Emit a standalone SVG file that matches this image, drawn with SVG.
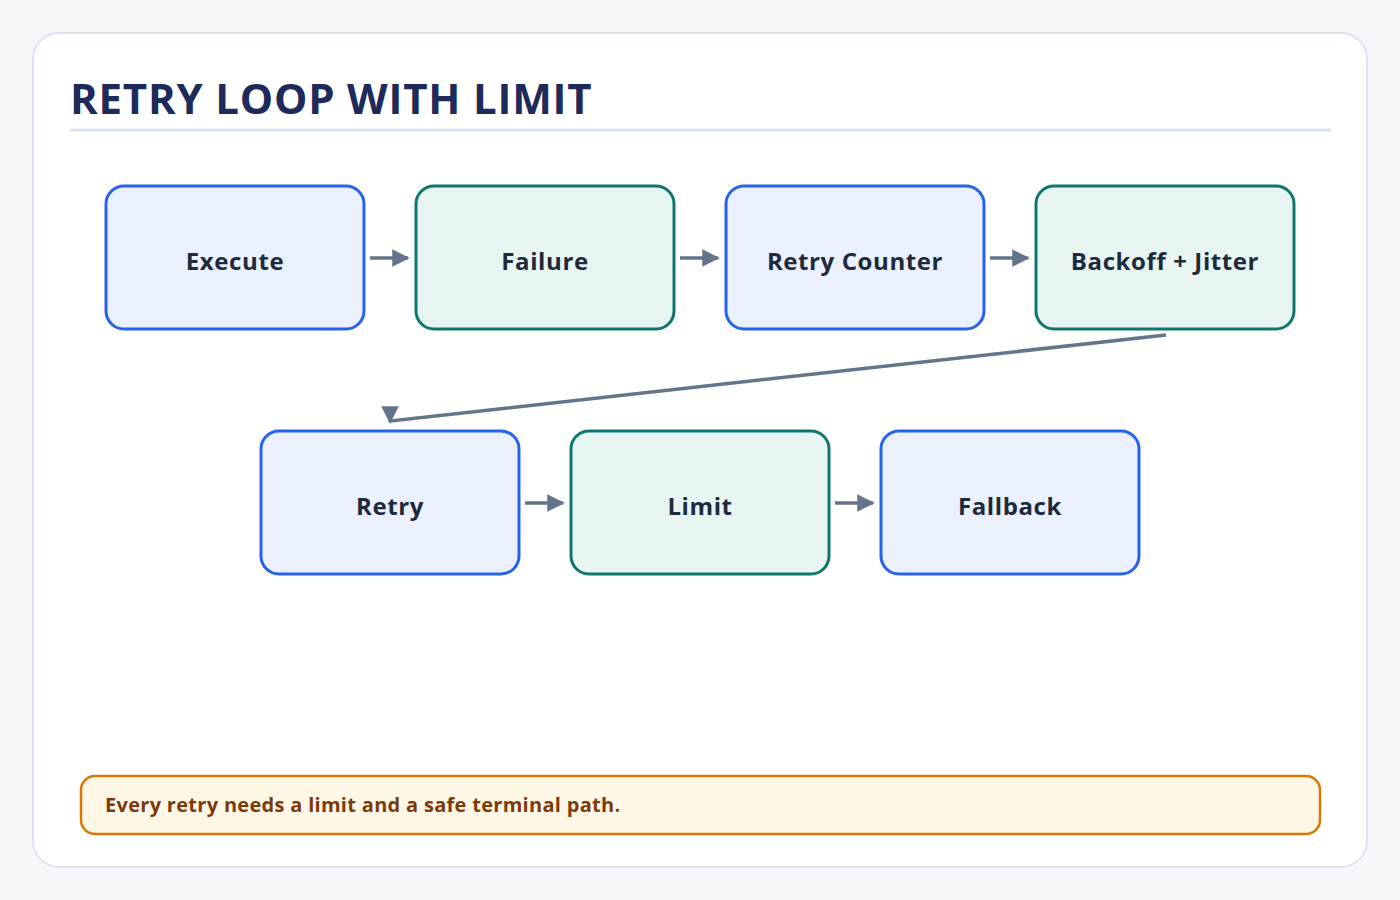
<svg xmlns="http://www.w3.org/2000/svg" width="1400" height="900" viewBox="0 0 1400 900">
<defs>
<marker id="ah" viewBox="0 0 10 10" refX="9" refY="5" markerWidth="5" markerHeight="5" orient="auto" markerUnits="strokeWidth"><path d="M0,0 L10,5 L0,10 z" fill="#64748b"/></marker>
<style>
.blue rect{fill:#eaf0fe;stroke:#2563eb;stroke-width:3}
.green rect{fill:#e6f5f1;stroke:#0f766e;stroke-width:3}
.lbl{font-family:"Open Sans","Noto Sans",sans-serif;font-weight:700;font-size:24px;letter-spacing:0.6px;fill:#1e293b;text-anchor:middle}
.con path{fill:none;stroke:#64748b;stroke-width:3.5;marker-end:url(#ah)}
</style>
</defs>
<rect width="1400" height="900" fill="#f5f7fb"/>
<rect x="33" y="33" width="1334" height="834" rx="26" fill="#fff" stroke="#dde3ee" stroke-width="2"/>
<text x="70" y="114" font-family="Open Sans,Noto Sans,sans-serif" font-weight="700" font-size="42" letter-spacing="0.8" fill="#1e2a5a">RETRY LOOP WITH LIMIT</text>
<line x1="70" y1="130" x2="1331" y2="130" stroke="#dde3ee" stroke-width="3"/>
<g id="n1" class="blue"><rect x="106" y="186" width="258" height="143" rx="18"/><text class="lbl" x="235" y="270">Execute</text></g>
<g id="n2" class="green"><rect x="416" y="186" width="258" height="143" rx="18"/><text class="lbl" x="545" y="270">Failure</text></g>
<g id="n3" class="blue"><rect x="726" y="186" width="258" height="143" rx="18"/><text class="lbl" x="855" y="270">Retry Counter</text></g>
<g id="n4" class="green"><rect x="1036" y="186" width="258" height="143" rx="18"/><text class="lbl" x="1165" y="270">Backoff + Jitter</text></g>
<g id="n5" class="blue"><rect x="261" y="431" width="258" height="143" rx="18"/><text class="lbl" x="390" y="515">Retry</text></g>
<g id="n6" class="green"><rect x="571" y="431" width="258" height="143" rx="18"/><text class="lbl" x="700" y="515">Limit</text></g>
<g id="n7" class="blue"><rect x="881" y="431" width="258" height="143" rx="18"/><text class="lbl" x="1010" y="515">Fallback</text></g>
<g id="connectors" class="con">
<path d="M370 258 L408 258"/>
<path d="M680 258 L718 258"/>
<path d="M990 258 L1028 258"/>
<path d="M1166 335 L390 421 L390 422"/>
<path d="M525 503 L563 503"/>
<path d="M835 503 L873 503"/>
</g>
<g id="note"><rect x="81" y="776" width="1239" height="58" rx="14" fill="#fef7e6" stroke="#d97706" stroke-width="2.5"/>
<text x="105" y="812" font-family="Open Sans,Noto Sans,sans-serif" font-weight="700" font-size="20" letter-spacing="0.3" fill="#7c3a0a">Every retry needs a limit and a safe terminal path.</text></g>
</svg>
